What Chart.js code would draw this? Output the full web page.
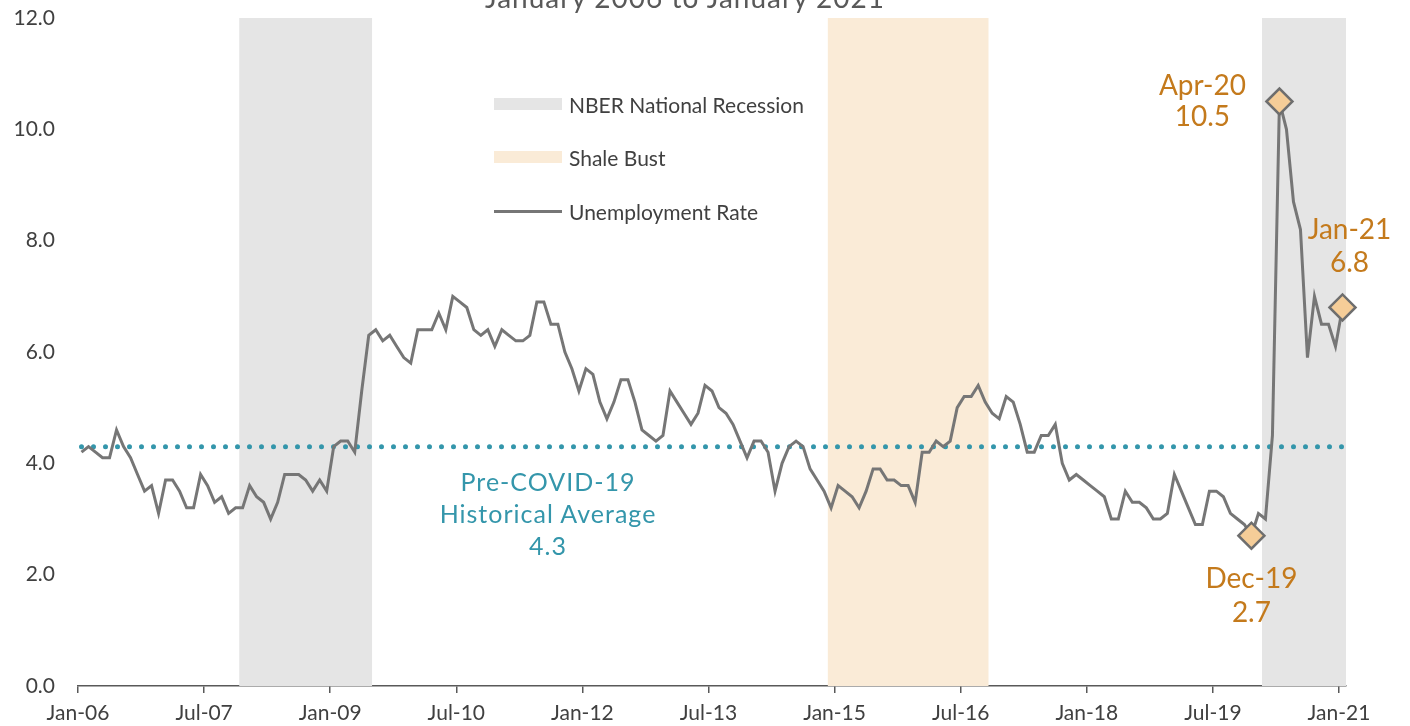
<!DOCTYPE html>
<html lang="en">
<head>
    <meta charset="UTF-8">
    <title>Unemployment Rate - January 2006 to January 2021</title>
    <script src="https://cdn.jsdelivr.net/npm/chart.js"></script>
    <style>
        body {
            margin: 0;
            background: #fff;
            font-family: 'Lato', sans-serif;
        }

        .wrap {
            position: relative;
            width: 1410px;
            height: 726px;
            overflow: hidden;
        }

        .subtitle {
            position: absolute;
            top: -17px;
            left: 0;
            width: 1370px;
            text-align: center;
            font-size: 28px;
            line-height: 28px;
            letter-spacing: 1px;
            color: #595959;
        }

        .legend {
            position: absolute;
            left: 494px;
            top: 0;
            color: #404040;
            font-size: 21px;
        }

        .legend .row {
            position: absolute;
            left: 0;
            display: flex;
            align-items: center;
            height: 24px;
            white-space: nowrap;
        }

        .legend .swatch {
            width: 68px;
            height: 12px;
            margin-right: 7px;
        }

        .legend .line {
            width: 68px;
            height: 3px;
            margin-right: 7px;
            background: #767676;
        }

        .note {
            position: absolute;
            left: 398px;
            top: 465px;
            width: 300px;
            text-align: center;
            font-size: 25px;
            line-height: 32px;
            letter-spacing: 1px;
            color: #3496AB;
        }
    </style>
</head>
<body>
    <div class="wrap">
        <canvas id="chart"></canvas>
        <div class="subtitle">January 2006 to January 2021</div>

        <div class="legend">
            <div class="row" style="top: 92px;"><span class="swatch" style="background: #E5E5E5;"></span>NBER National Recession</div>
            <div class="row" style="top: 145px;"><span class="swatch" style="background: #FAEBD7;"></span>Shale Bust</div>
            <div class="row" style="top: 199px;"><span class="line"></span>Unemployment Rate</div>
        </div>

        <div class="note">Pre-COVID-19<br>Historical Average<br><span id="avgValue"></span></div>
    </div>

    <script>
        // monthly unemployment rate, Jan-06 .. Jan-21
        const rate = [
            4.2, 4.3, 4.2, 4.1, 4.1, 4.6, 4.3, 4.1, 3.8, 3.5, 3.6, 3.1,
            3.7, 3.7, 3.5, 3.2, 3.2, 3.8, 3.6, 3.3, 3.4, 3.1, 3.2, 3.2,
            3.6, 3.4, 3.3, 3.0, 3.3, 3.8, 3.8, 3.8, 3.7, 3.5, 3.7, 3.5,
            4.3, 4.4, 4.4, 4.2, 5.3, 6.3, 6.4, 6.2, 6.3, 6.1, 5.9, 5.8,
            6.4, 6.4, 6.4, 6.7, 6.4, 7.0, 6.9, 6.8, 6.4, 6.3, 6.4, 6.1,
            6.4, 6.3, 6.2, 6.2, 6.3, 6.9, 6.9, 6.5, 6.5, 6.0, 5.7, 5.3,
            5.7, 5.6, 5.1, 4.8, 5.1, 5.5, 5.5, 5.1, 4.6, 4.5, 4.4, 4.5,
            5.3, 5.1, 4.9, 4.7, 4.9, 5.4, 5.3, 5.0, 4.9, 4.7, 4.4, 4.1,
            4.4, 4.4, 4.2, 3.5, 4.0, 4.3, 4.4, 4.3, 3.9, 3.7, 3.5, 3.2,
            3.6, 3.5, 3.4, 3.2, 3.5, 3.9, 3.9, 3.7, 3.7, 3.6, 3.6, 3.3,
            4.2, 4.2, 4.4, 4.3, 4.4, 5.0, 5.2, 5.2, 5.4, 5.1, 4.9, 4.8,
            5.2, 5.1, 4.7, 4.2, 4.2, 4.5, 4.5, 4.7, 4.0, 3.7, 3.8, 3.7,
            3.6, 3.5, 3.4, 3.0, 3.0, 3.5, 3.3, 3.3, 3.2, 3.0, 3.0, 3.1,
            3.8, 3.5, 3.2, 2.9, 2.9, 3.5, 3.5, 3.4, 3.1, 3.0, 2.9, 2.7,
            3.1, 3.0, 4.5, 10.5, 10.0, 8.7, 8.2, 5.9, 7.0, 6.5, 6.5, 6.1,
            6.8
        ];
        const histAvg = 4.3;

        const monthNames = ["Jan", "Feb", "Mar", "Apr", "May", "Jun", "Jul", "Aug", "Sep", "Oct", "Nov", "Dec"];
        const monthLabels = rate.map((v, i) => monthNames[i % 12] + "-" + String(6 + Math.floor(i / 12)).padStart(2, "0"));

        const tickLabels = ["Jan-06", "Jul-07", "Jan-09", "Jul-10", "Jan-12", "Jul-13", "Jan-15", "Jul-16", "Jan-18", "Jul-19", "Jan-21"];
        const nberPeriods = [["Dec-07", "Jun-09"], ["Feb-20", "Jan-21"]];
        const shalePeriods = [["Dec-14", "Oct-16"]];
        const calloutMonths = ["Dec-19", "Apr-20", "Jan-21"];

        const idx = m => monthLabels.indexOf(m);
        const lastIdx = rate.length - 1;

        // a period covers whole months, so from half a month before to half after
        function bandDatasets(periods, color) {
            return periods.map(p => ({
                type: "line",
                data: [{ x: idx(p[0]) - 0.5, y: 12 }, { x: idx(p[1]) + 0.5, y: 12 }],
                fill: "origin",
                backgroundColor: color,
                borderWidth: 0,
                pointRadius: 0,
                order: 3
            }));
        }

        const calloutIdx = calloutMonths.map(idx);
        const calloutOffsets = { "Dec-19": [0, 52, 34], "Apr-20": [-77, -7, 31], "Jan-21": [7, -68, 33] };

        const callouts = {
            id: "callouts",
            afterDatasetsDraw(chart) {
                const meta = chart.getDatasetMeta(0);
                const ctx = chart.ctx;
                ctx.save();
                ctx.font = "28px Lato";
                ctx.fillStyle = "#C47A1C";
                ctx.textAlign = "center";
                ctx.textBaseline = "alphabetic";
                calloutMonths.forEach(m => {
                    const i = idx(m);
                    const pt = meta.data[i];
                    const off = calloutOffsets[m];
                    ctx.fillText(m, pt.x + off[0], pt.y + off[1]);
                    ctx.fillText(rate[i].toFixed(1), pt.x + off[0], pt.y + off[1] + off[2]);
                });
                ctx.restore();
            }
        };

        document.getElementById("avgValue").textContent = histAvg.toFixed(1);

        new Chart(document.getElementById("chart"), {
            type: "line",
            data: {
                datasets: [
                    {
                        label: "Unemployment Rate",
                        data: rate.map((v, i) => ({ x: i, y: v })),
                        borderColor: "#767676",
                        borderWidth: 3,
                        tension: 0,
                        clip: false,
                        pointRadius: ctx => calloutIdx.includes(ctx.dataIndex) ? 13 : 0,
                        pointStyle: "rectRot",
                        pointBackgroundColor: "#F5CD98",
                        pointBorderColor: "#6E6E6E",
                        pointBorderWidth: 2.5,
                        order: 0
                    },
                    {
                        label: "Pre-COVID-19 Historical Average",
                        data: [{ x: 0, y: histAvg }, { x: lastIdx, y: histAvg }],
                        borderColor: "#3496AB",
                        borderWidth: 5,
                        borderDash: [0, 12],
                        borderCapStyle: "round",
                        pointRadius: 0,
                        order: 1
                    },
                    ...bandDatasets(nberPeriods, "#E5E5E5"),
                    ...bandDatasets(shalePeriods, "#FAEBD7")
                ]
            },
            options: {
                responsive: true,
                maintainAspectRatio: false,
                animation: false,
                layout: { padding: { top: 18, right: 64, left: 0, bottom: 0 } },
                plugins: {
                    legend: { display: false },
                    tooltip: { enabled: false }
                },
                scales: {
                    x: {
                        type: "linear",
                        min: -0.5,
                        max: lastIdx + 0.5,
                        afterBuildTicks: scale => {
                            scale.ticks = tickLabels.map(l => ({ value: idx(l) - 0.5 }));
                        },
                        afterFit: scale => {
                            scale.height = 40;
                            scale.paddingLeft = 0;
                            scale.paddingRight = 0;
                        },
                        ticks: {
                            callback: v => monthLabels[Math.round(v + 0.5)],
                            color: "#404040",
                            font: { family: "Lato", size: 21 },
                            padding: 8,
                            maxRotation: 0,
                            autoSkip: false
                        },
                        grid: {
                            display: true,
                            drawOnChartArea: false,
                            tickLength: 7,
                            color: "#595959",
                            lineWidth: 1.5
                        },
                        border: { display: true, color: "#595959", width: 1.5 }
                    },
                    y: {
                        min: 0,
                        max: 12,
                        afterFit: scale => {
                            scale.width = 78;
                            scale.paddingTop = 0;
                            scale.paddingBottom = 0;
                        },
                        ticks: {
                            stepSize: 2,
                            callback: v => v.toFixed(1),
                            color: "#404040",
                            font: { family: "Lato", size: 21 },
                            padding: 15
                        },
                        grid: { display: false },
                        border: { display: false }
                    }
                }
            },
            plugins: [callouts]
        });
    </script>
</body>
</html>
